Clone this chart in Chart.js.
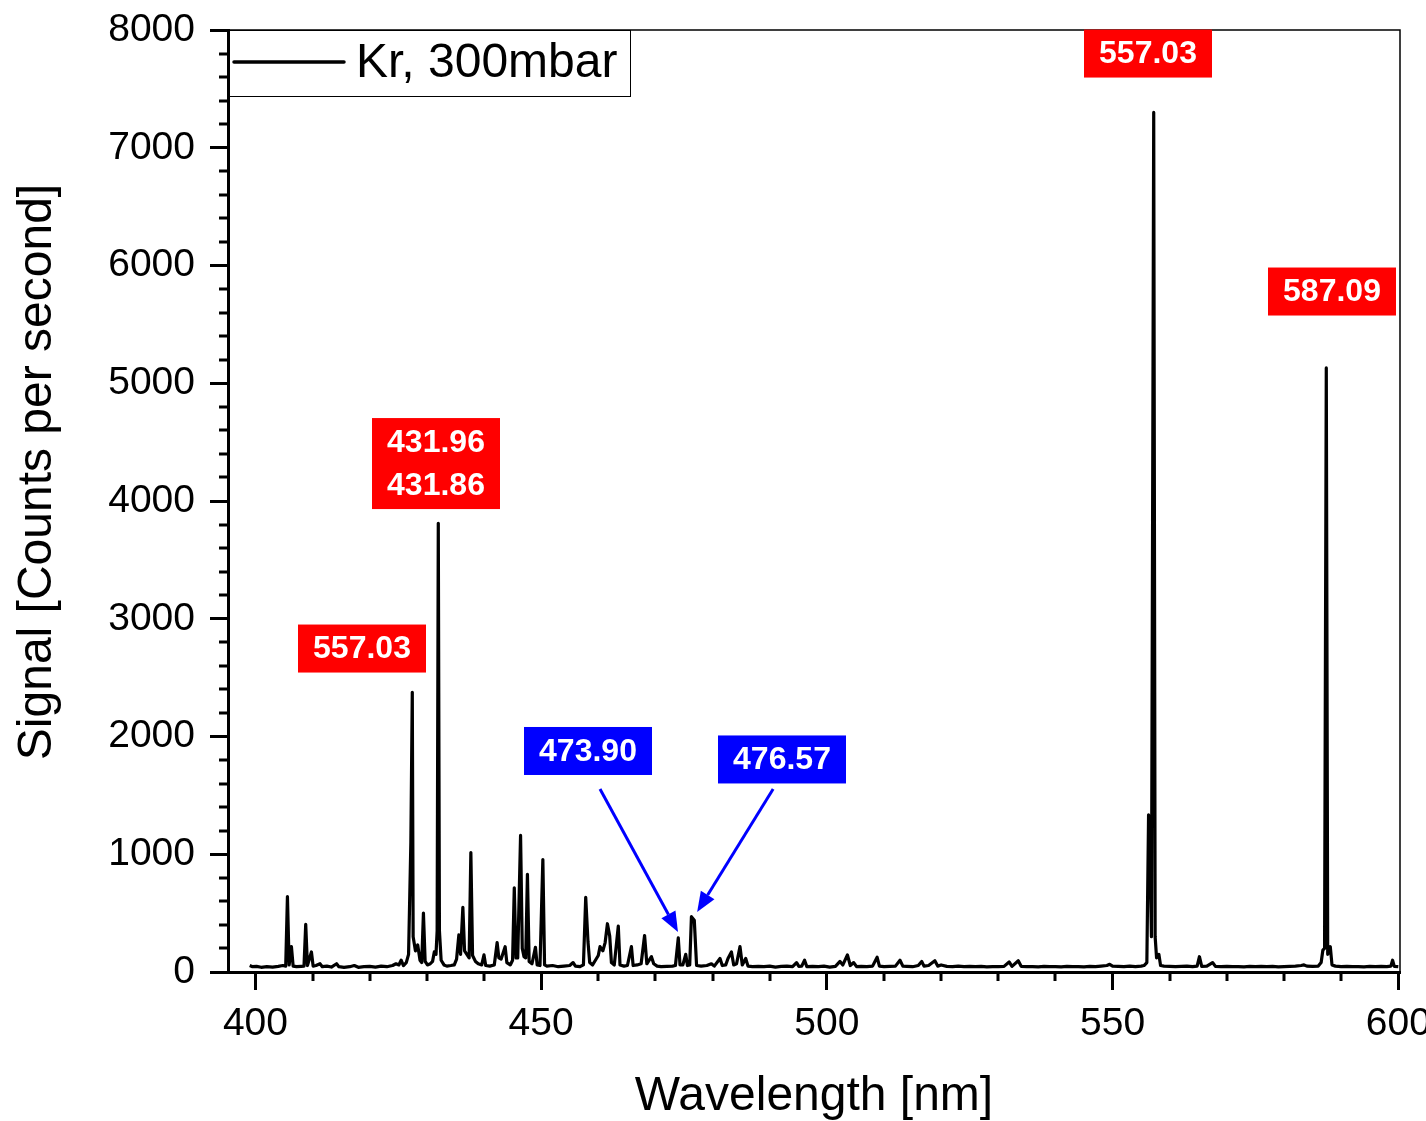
<!DOCTYPE html>
<html>
<head>
<meta charset="utf-8">
<script src="https://cdn.jsdelivr.net/npm/chart.js@4.4.0/dist/chart.umd.min.js"></script>
<style>
  html, body { margin: 0; padding: 0; background: #fff; }
  canvas { display: block; }
</style>
</head>
<body>
<canvas id="spectrum" width="1426" height="1121"></canvas>
<script>
// Kr spectrum, 300 mbar
const wavelengths = [
  399.0, 399.5, 400.2, 401.0, 402.0, 403.0, 404.0, 404.8, 405.3, 405.6, 405.9, 406.3, 406.6, 407.2, 408.0, 408.5,
  408.8, 409.1, 409.8, 410.1, 410.6, 411.3, 411.7, 412.5, 413.3, 414.2, 414.6, 415.5, 416.5, 417.3, 418.0, 419.0,
  420.0, 421.0, 422.0, 423.0, 424.0, 424.6, 425.1, 425.5, 425.9, 426.4, 426.8, 427.2, 427.45, 427.6, 428.0, 428.4,
  428.8, 429.1, 429.4, 429.7, 430.1, 430.6, 431.0, 431.3, 431.6, 431.8, 432.0, 432.2, 432.5, 433.0, 433.5, 434.2,
  434.8, 435.2, 435.6, 435.9, 436.3, 436.6, 437.0, 437.4, 437.7, 438.0, 438.5, 439.0, 439.6, 440.0, 440.3, 441.0,
  441.8, 442.3, 442.6, 443.0, 443.7, 444.0, 444.6, 445.0, 445.3, 445.6, 445.9, 446.4, 446.7, 447.0, 447.3, 447.6,
  447.9, 448.4, 449.0, 449.3, 449.8, 450.3, 450.6, 451.0, 452.0, 453.0, 454.0, 455.0, 455.6, 456.0, 456.8, 457.4,
  457.8, 458.2, 458.5, 459.0, 459.5, 460.0, 460.3, 460.8, 461.2, 461.6, 462.0, 462.3, 462.8, 463.5, 463.8, 464.5,
  465.1, 465.8, 466.1, 466.8, 467.5, 468.1, 468.5, 469.3, 469.7, 470.3, 471.0, 472.0, 473.0, 473.5, 474.0, 474.3,
  474.8, 475.3, 475.6, 476.0, 476.3, 476.8, 477.2, 478.0, 479.0, 479.8, 480.3, 481.3, 481.7, 482.3, 482.7, 483.3,
  483.7, 484.2, 484.8, 485.2, 485.8, 486.2, 487.0, 488.0, 489.0, 490.0, 491.0, 492.0, 493.0, 494.0, 494.7, 495.1,
  495.6, 496.1, 496.5, 497.5, 498.5, 499.5, 500.5, 501.5, 502.3, 502.8, 503.6, 504.1, 504.7, 505.2, 506.0, 507.0,
  508.0, 508.8, 509.2, 510.0, 511.0, 512.0, 512.8, 513.3, 514.0, 515.0, 516.0, 516.6, 517.0, 517.8, 518.9, 519.4,
  520.0, 521.0, 522.0, 523.0, 524.0, 525.0, 526.0, 527.0, 528.0, 529.0, 530.0, 531.0, 531.9, 532.4, 533.5, 534.0,
  535.0, 536.0, 537.0, 538.0, 539.0, 540.0, 541.0, 542.0, 543.0, 544.0, 545.0, 546.0, 547.0, 548.0, 549.0, 549.5,
  550.0, 551.0, 552.0, 553.0, 554.0, 555.0, 555.5, 556.0, 556.3, 556.5, 556.8, 557.2, 557.45, 557.7, 558.1, 558.4,
  559.0, 560.0, 561.0, 562.0, 563.0, 564.0, 564.8, 565.2, 565.6, 566.5, 567.5, 568.0, 569.0, 570.0, 571.0, 572.0,
  573.0, 574.0, 575.0, 576.0, 577.0, 578.0, 579.0, 580.0, 581.0, 582.0, 583.0, 583.5, 584.0, 585.0, 586.0, 586.5,
  586.8, 587.1, 587.4, 587.65, 588.1, 588.4, 589.0, 590.0, 591.0, 592.0, 593.0, 594.0, 595.0, 596.0, 597.0, 598.0,
  598.7, 599.0, 599.3, 600.0
];
const counts = [
  55, 45, 48, 40, 45, 42, 48, 55, 50, 640, 60, 215, 50, 45, 48, 50,
  405, 55, 170, 50, 55, 70, 45, 50, 42, 70, 45, 40, 45, 55, 40, 45,
  48, 42, 50, 45, 55, 70, 60, 100, 55, 80, 150, 1100, 2375, 300, 180, 230,
  100, 80, 500, 90, 60, 70, 90, 170, 150, 350, 3810, 350, 100, 60, 50, 55,
  60, 110, 315, 150, 550, 180, 150, 120, 1015, 140, 90, 70, 60, 145, 55, 50,
  60, 250, 120, 110, 215, 80, 60, 100, 715, 120, 120, 1160, 200, 130, 120, 830,
  90, 70, 210, 60, 55, 955, 60, 50, 55, 45, 50, 55, 80, 50, 45, 60,
  635, 255, 80, 60, 100, 140, 215, 180, 250, 410, 305, 80, 60, 390, 60, 50,
  55, 215, 55, 60, 70, 310, 70, 130, 70, 50, 45, 48, 50, 55, 290, 60,
  60, 150, 55, 60, 470, 440, 55, 50, 55, 70, 50, 115, 55, 60, 115, 170,
  60, 70, 215, 60, 115, 50, 45, 48, 45, 50, 42, 48, 50, 45, 80, 48,
  50, 100, 45, 48, 45, 50, 42, 48, 90, 60, 145, 55, 80, 45, 48, 45,
  50, 125, 50, 45, 48, 50, 100, 50, 48, 45, 55, 90, 50, 55, 95, 50,
  60, 48, 45, 50, 45, 48, 45, 48, 44, 46, 45, 48, 85, 48, 95, 48,
  45, 46, 44, 48, 45, 46, 44, 47, 45, 46, 44, 48, 45, 50, 55, 65,
  50, 48, 45, 50, 46, 50, 55, 80, 1335, 1200, 300, 7300, 300, 120, 150, 55,
  50, 48, 45, 48, 50, 45, 50, 130, 48, 50, 80, 48, 45, 48, 45, 46,
  44, 47, 45, 48, 45, 47, 44, 46, 48, 50, 55, 60, 50, 48, 50, 80,
  185, 200, 5130, 150, 215, 60, 50, 45, 48, 45, 46, 44, 47, 45, 48, 45,
  50, 100, 48, 45
];

const yTickValues = [0, 1000, 2000, 3000, 4000, 5000, 6000, 7000, 8000];
const xTickValues = [400, 450, 500, 550, 600];

// peak annotations
const labelTexts = [['557.03'], ['587.09'], ['431.96', '431.86'], ['557.03'], ['473.90'], ['476.57']];
const labelAtNm = [556.2, 588.4, 431.6, 418.65, 458.2, 492.15];
const labelAtCounts = [7800, 5779, 4318, 2747, 1877, 1805];
const labelKinds = ['red', 'red', 'red', 'red', 'blue', 'blue'];
const arrowStartNm = [460.3, 490.6];
const arrowStartCounts = [1554, 1554];
const arrowEndNm = [473.95, 477.3];
const arrowEndCounts = [340, 510];

const FONT = "'Liberation Sans', Arial, sans-serif";

const points = wavelengths.map((w, i) => ({ x: w, y: counts[i] }));

const extras = {
  id: 'extras',
  afterDraw(chart) {
    const { ctx, chartArea: a, scales: { x, y } } = chart;
    ctx.save();

    // thin top / right frame
    ctx.strokeStyle = '#000';
    ctx.lineWidth = 1.5;
    ctx.beginPath();
    ctx.moveTo(a.left, a.top);
    ctx.lineTo(a.right, a.top);
    ctx.lineTo(a.right, a.bottom);
    ctx.stroke();

    // minor ticks
    ctx.lineWidth = 3;
    ctx.beginPath();
    for (let v = 200; v < 8000; v += 200) {
      if (v % 1000 === 0) continue;
      const py = Math.round(y.getPixelForValue(v));
      ctx.moveTo(a.left - 9, py);
      ctx.lineTo(a.left, py);
    }
    for (let v = 410; v < 600; v += 10) {
      if (v % 50 === 0) continue;
      const px = Math.round(x.getPixelForValue(v));
      ctx.moveTo(px, a.bottom);
      ctx.lineTo(px, a.bottom + 9);
    }
    ctx.stroke();

    // y axis title (sits a little above centre in the original)
    ctx.save();
    ctx.translate(38, (a.top + a.bottom) / 2 - 29);
    ctx.rotate(-Math.PI / 2);
    ctx.fillStyle = '#000';
    ctx.font = '48px ' + FONT;
    ctx.textAlign = 'center';
    ctx.textBaseline = 'middle';
    ctx.fillText('Signal [Counts per second]', 0, 0);
    ctx.restore();

    // legend
    ctx.lineWidth = 1;
    ctx.strokeRect(a.left + 0.5, a.top + 0.5, 402, 66);
    ctx.lineWidth = 3.5;
    ctx.lineCap = 'round';
    ctx.beginPath();
    ctx.moveTo(a.left + 6, a.top + 32);
    ctx.lineTo(a.left + 116, a.top + 32);
    ctx.stroke();
    ctx.fillStyle = '#000';
    ctx.font = '48px ' + FONT;
    ctx.textBaseline = 'middle';
    ctx.textAlign = 'left';
    ctx.fillText('Kr, 300mbar', a.left + 128, a.top + 34);

    // arrows
    ctx.strokeStyle = '#0000ff';
    ctx.fillStyle = '#0000ff';
    ctx.lineWidth = 3;
    ctx.lineCap = 'butt';
    arrowStartNm.forEach((nm, i) => {
      const x0 = x.getPixelForValue(nm), y0 = y.getPixelForValue(arrowStartCounts[i]);
      const x1 = x.getPixelForValue(arrowEndNm[i]), y1 = y.getPixelForValue(arrowEndCounts[i]);
      const ang = Math.atan2(y1 - y0, x1 - x0);
      const head = 20, half = 8;
      const bx = x1 - head * Math.cos(ang), by = y1 - head * Math.sin(ang);
      ctx.beginPath();
      ctx.moveTo(x0, y0);
      ctx.lineTo(bx, by);
      ctx.stroke();
      ctx.beginPath();
      ctx.moveTo(x1, y1);
      ctx.lineTo(bx + half * Math.sin(ang), by - half * Math.cos(ang));
      ctx.lineTo(bx - half * Math.sin(ang), by + half * Math.cos(ang));
      ctx.closePath();
      ctx.fill();
    });

    // label boxes
    ctx.font = 'bold 32px ' + FONT;
    ctx.textAlign = 'center';
    labelTexts.forEach((lines, i) => {
      const cx = x.getPixelForValue(labelAtNm[i]);
      const cy = y.getPixelForValue(labelAtCounts[i]);
      const w = 128, h = lines.length === 1 ? 48 : 91;
      ctx.fillStyle = labelKinds[i] === 'red' ? '#ff0000' : '#0000ff';
      ctx.fillRect(cx - w / 2, cy - h / 2, w, h);
      ctx.fillStyle = '#fff';
      lines.forEach((t, j) => {
        const ty = cy + (j - (lines.length - 1) / 2) * 43;
        ctx.fillText(t, cx, ty + 1);
      });
    });

    ctx.restore();
  }
};

new Chart(document.getElementById('spectrum').getContext('2d'), {
  type: 'line',
  data: {
    datasets: [{
      label: 'Kr, 300mbar',
      data: points,
      borderColor: '#000',
      borderWidth: 3.2,
      borderJoinStyle: 'round',
      pointRadius: 0,
      tension: 0,
      fill: false
    }]
  },
  options: {
    responsive: false,
    animation: false,
    layout: { padding: { top: 30, right: 26, bottom: 0, left: 0 } },
    plugins: {
      legend: { display: false },
      tooltip: { enabled: false }
    },
    scales: {
      x: {
        type: 'linear',
        min: 395.2,
        max: 600.3,
        afterFit(scale) {
          scale.height = 149;
          scale.paddingLeft = 0;
          scale.paddingRight = 0;
        },
        afterBuildTicks(scale) {
          scale.ticks = xTickValues.map(v => ({ value: v }));
        },
        border: { display: true, color: '#000', width: 3 },
        grid: { display: true, drawOnChartArea: false, drawTicks: true, tickLength: 18, tickWidth: 3, tickColor: '#000' },
        ticks: { color: '#000', font: { family: FONT, size: 39 }, padding: 11, maxRotation: 0, autoSkip: false,
                 callback: v => String(v) },
        title: { display: true, text: 'Wavelength [nm]', color: '#000', font: { family: FONT, size: 48 }, padding: { top: 0, bottom: -5 } }
      },
      y: {
        min: 0,
        max: 8000,
        afterFit(scale) {
          scale.width = 228;
          scale.paddingTop = 0;
          scale.paddingBottom = 0;
        },
        afterBuildTicks(scale) {
          scale.ticks = yTickValues.map(v => ({ value: v }));
        },
        border: { display: true, color: '#000', width: 3 },
        grid: { display: true, drawOnChartArea: false, drawTicks: true, tickLength: 18, tickWidth: 3, tickColor: '#000' },
        ticks: { color: '#000', font: { family: FONT, size: 39 }, padding: 15, callback: v => String(v) }
      }
    }
  },
  plugins: [extras]
});
</script>
</body>
</html>
